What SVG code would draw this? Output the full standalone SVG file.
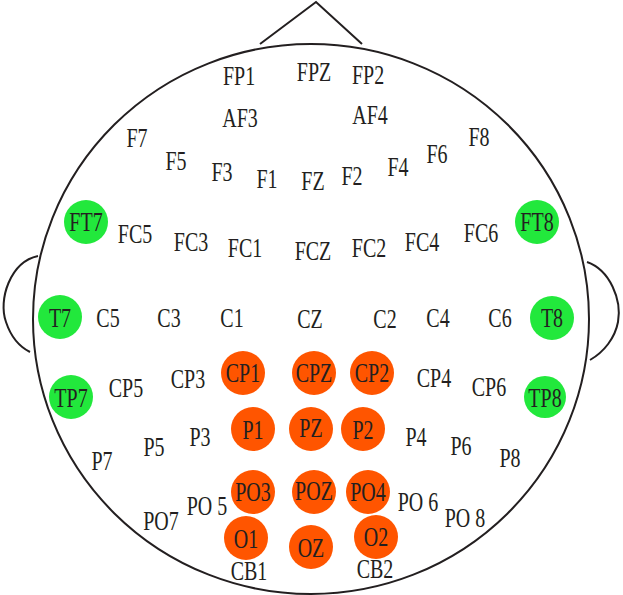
<svg xmlns="http://www.w3.org/2000/svg" width="623" height="595" viewBox="0 0 623 595">
<style>
.o{fill:none;stroke:#231f20;stroke-width:2}
.g{fill:#22e83c}.r{fill:#ff5500}
</style>
<rect width="623" height="595" fill="#fff"/>
<g id="head">
<path class="o" d="M38,256 C10,262 -2,300 6,322 C12,340 22,348 30,352"/>
<path class="o" d="M587,262 C610,270 622,300 618,322 C615,338 604,352 590,360"/>
<path class="o" d="M260,44 L316,2 L362,44"/>
<ellipse class="o" cx="311" cy="319" rx="278" ry="275"/>
</g>
<g id="circles">
<circle class="g" cx="86" cy="222" r="22"/><circle class="g" cx="537" cy="222" r="22"/>
<circle class="g" cx="60" cy="317" r="22"/><circle class="g" cx="552" cy="318" r="22"/>
<circle class="g" cx="71" cy="397" r="22"/><circle class="g" cx="545" cy="397" r="21"/>
<circle class="r" cx="243" cy="373" r="22"/><circle class="r" cx="314" cy="373" r="22"/><circle class="r" cx="372" cy="373" r="22"/>
<circle class="r" cx="253" cy="429" r="22"/><circle class="r" cx="311" cy="429" r="22"/><circle class="r" cx="363" cy="429" r="22"/>
<circle class="r" cx="253" cy="492" r="22"/><circle class="r" cx="314" cy="492" r="22"/><circle class="r" cx="368" cy="492" r="22"/>
<circle class="r" cx="246" cy="538" r="22"/><circle class="r" cx="311" cy="547" r="22"/><circle class="r" cx="376" cy="537" r="22"/>
</g>
<g id="labels" font-family="Liberation Serif, serif" font-size="20" fill="#231f20" text-anchor="middle">
<text transform="translate(239,85) scale(1 1.35)">FP1</text><text transform="translate(314,81) scale(1 1.35)">FPZ</text><text transform="translate(368,84) scale(1 1.35)">FP2</text>
<text transform="translate(240,127) scale(1 1.35)">AF3</text><text transform="translate(370,124) scale(1 1.35)">AF4</text>
<text transform="translate(137,147) scale(1 1.35)">F7</text><text transform="translate(176,170) scale(1 1.35)">F5</text><text transform="translate(222,181) scale(1 1.35)">F3</text><text transform="translate(267,188) scale(1 1.35)">F1</text><text transform="translate(313,190) scale(1 1.35)">FZ</text><text transform="translate(352,185) scale(1 1.35)">F2</text><text transform="translate(398,176) scale(1 1.35)">F4</text><text transform="translate(437,163) scale(1 1.35)">F6</text><text transform="translate(479,146) scale(1 1.35)">F8</text>
<text transform="translate(86,231) scale(1 1.35)">FT7</text><text transform="translate(135,243) scale(1 1.35)">FC5</text><text transform="translate(191,251) scale(1 1.35)">FC3</text><text transform="translate(245,257) scale(1 1.35)">FC1</text><text transform="translate(313,260) scale(1 1.35)">FCZ</text><text transform="translate(369,257) scale(1 1.35)">FC2</text><text transform="translate(422,251) scale(1 1.35)">FC4</text><text transform="translate(481,242) scale(1 1.35)">FC6</text><text transform="translate(537,231) scale(1 1.35)">FT8</text>
<text transform="translate(60,327) scale(1 1.35)">T7</text><text transform="translate(108,327) scale(1 1.35)">C5</text><text transform="translate(169,327) scale(1 1.35)">C3</text><text transform="translate(232,327) scale(1 1.35)">C1</text><text transform="translate(310,328) scale(1 1.35)">CZ</text><text transform="translate(385,328) scale(1 1.35)">C2</text><text transform="translate(438,327) scale(1 1.35)">C4</text><text transform="translate(500,327) scale(1 1.35)">C6</text><text transform="translate(552,327) scale(1 1.35)">T8</text>
<text transform="translate(71,407) scale(1 1.35)">TP7</text><text transform="translate(126,397) scale(1 1.35)">CP5</text><text transform="translate(188,388) scale(1 1.35)">CP3</text><text transform="translate(243,382) scale(1 1.35)">CP1</text><text transform="translate(314,382) scale(1 1.35)">CPZ</text><text transform="translate(372,382) scale(1 1.35)">CP2</text><text transform="translate(434,387) scale(1 1.35)">CP4</text><text transform="translate(489,396) scale(1 1.35)">CP6</text><text transform="translate(545,407) scale(1 1.35)">TP8</text>
<text transform="translate(102,470) scale(1 1.35)">P7</text><text transform="translate(154,456) scale(1 1.35)">P5</text><text transform="translate(200,446) scale(1 1.35)">P3</text><text transform="translate(253,439) scale(1 1.35)">P1</text><text transform="translate(311,437) scale(1 1.35)">PZ</text><text transform="translate(363,439) scale(1 1.35)">P2</text><text transform="translate(416,446) scale(1 1.35)">P4</text><text transform="translate(461,455) scale(1 1.35)">P6</text><text transform="translate(510,467) scale(1 1.35)">P8</text>
<text transform="translate(161,530) scale(1 1.35)">PO7</text><text transform="translate(207,515) scale(1 1.35)">PO 5</text><text transform="translate(253,501) scale(1 1.35)">PO3</text><text transform="translate(314,500) scale(1 1.35)">POZ</text><text transform="translate(368,501) scale(1 1.35)">PO4</text><text transform="translate(418,511) scale(1 1.35)">PO 6</text><text transform="translate(465,527) scale(1 1.35)">PO 8</text>
<text transform="translate(246,548) scale(1 1.35)">O1</text><text transform="translate(311,557) scale(1 1.35)">OZ</text><text transform="translate(376,546) scale(1 1.35)">O2</text>
<text transform="translate(249,580) scale(1 1.35)">CB1</text><text transform="translate(375,578) scale(1 1.35)">CB2</text>
</g>
</svg>
